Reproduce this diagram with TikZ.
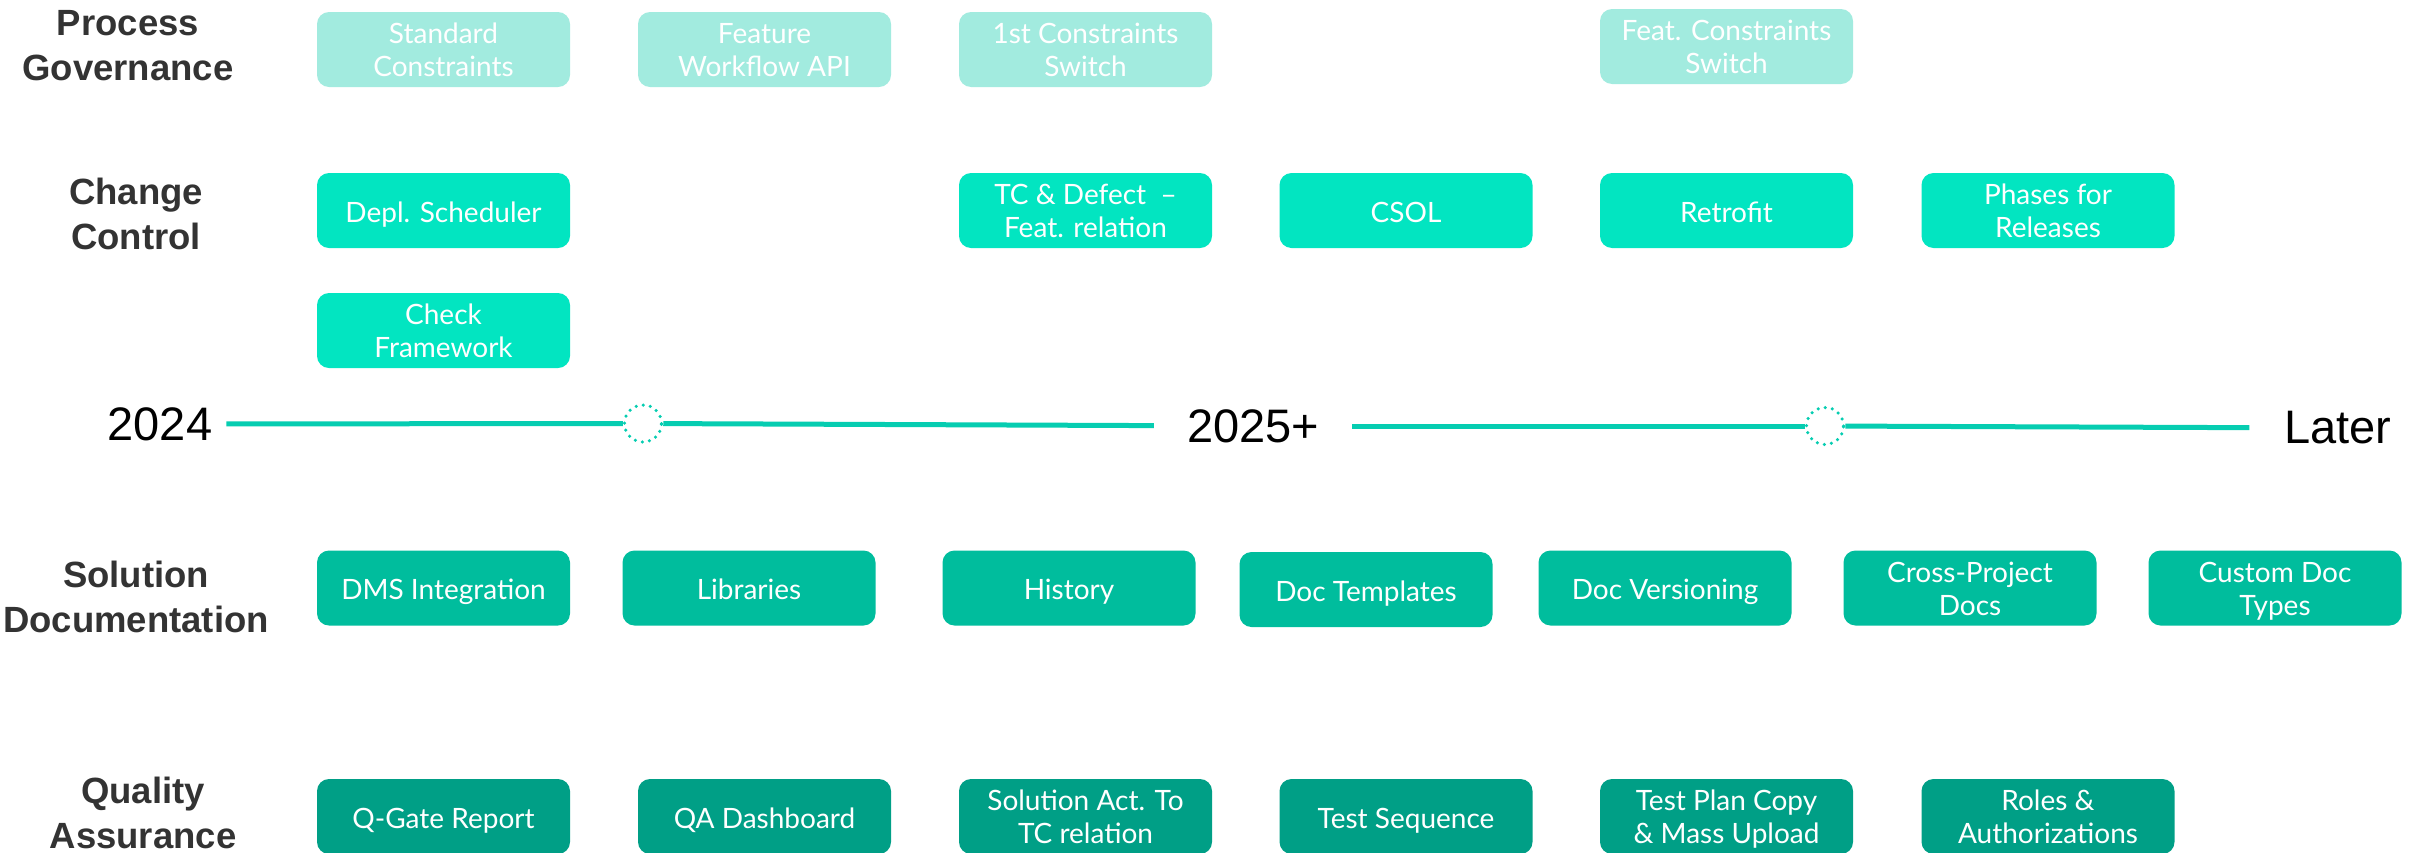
\documentclass[tikz,border=0pt]{standalone}
\usepackage{fontspec}
\setmainfont{Lato}
\newfontfamily\labfont{Liberation Sans}
\newcommand\twolines[1]{\parbox[b]{250pt}{\centering #1}}
\definecolor{pgc}{HTML}{A2EBDF}
\definecolor{ccc}{HTML}{02E5C1}
\definecolor{sdc}{HTML}{00BD9D}
\definecolor{qac}{HTML}{009F86}
\definecolor{linec}{HTML}{06CDB1}
\definecolor{labc}{HTML}{333333}
\begin{document}
\begin{tikzpicture}[x=1pt,y=-1pt,
 item/.style={rounded corners=12pt, minimum width=253pt, minimum height=75pt, text=white, align=center, font=\fontsize{28}{33}\selectfont, inner sep=0pt},
 one/.style={text height=23.5pt, text depth=0pt},
 two/.style={text height=54pt, text depth=0pt},
 pg/.style={item, fill=pgc},
 cc/.style={item, fill=ccc},
 sd/.style={item, fill=sdc},
 qa/.style={item, fill=qac},
 rowlabel/.style={font=\labfont\bfseries\fontsize{36.5}{45}\selectfont, text=labc, align=center, inner sep=0pt},
 year/.style={font=\labfont\fontsize{47}{50}\selectfont, text=black, inner ysep=0pt},
 mile/.style={circle, draw=linec, line width=3.5pt, line cap=round, dash pattern=on 0pt off 7.2pt, minimum size=37pt, inner sep=0pt},
 tl/.style={draw=linec, line width=5pt}]
\useasboundingbox (0,0) rectangle (2426,852);
\clip (0,0) rectangle (2426,852);

% row labels
\node[rowlabel] (lpg) at (128,45.5) {Process\\Governance};
\node[rowlabel] (lcc) at (136,214) {Change\\Control};
\node[rowlabel] (lsd) at (136,597) {Solution\\Documentation};
\node[rowlabel] (lqa) at (143,813) {Quality\\Assurance};

% Process Governance
\node[pg, two] (pg1) at (443.5,49.5) {\twolines{Standard\\Constraints}};
\node[pg, two] (pg2) at (764.5,49.5) {\twolines{Feature\\Workflow API}};
\node[pg, two] (pg3) at (1085.5,49.5) {\twolines{1st Constraints\\Switch}};
\node[pg, two] (pg4) at (1726.5,46.5) {\twolines{Feat. Constraints\\Switch}};

% Change Control
\node[cc, one] (cc1) at (443.5,210.5) {Depl. Scheduler};
\node[cc, two] (cc2) at (443.5,330.5) {\twolines{Check\\Framework}};
\node[cc, two] (cc3) at (1085.5,210.5) {\twolines{TC \& Defect~ --\\Feat. relation}};
\node[cc, one] (cc4) at (1406,210.5) {CSOL};
\node[cc, one] (cc5) at (1726.5,210.5) {Retrofit};
\node[cc, two] (cc6) at (2048,210.5) {\twolines{Phases for\\Releases}};

% timeline
\node[year, inner xsep=14pt] (t1) at (160,424) {2024};
\node[mile] (m1) at (643,423.5) {};
\node[year, inner xsep=33pt] (t2) at (1253,426) {2025+};
\node[mile] (m2) at (1825,426) {};
\node[year, inner xsep=35pt] (t3) at (2338,428) {Later};
\draw[tl] (t1) -- (m1);
\draw[tl] (m1) -- (t2);
\draw[tl] (t2) -- (m2);
\draw[tl] (m2) -- (t3);

% Solution Documentation
\node[sd, one] (sd1) at (443.5,588) {DMS Integration};
\node[sd, one] (sd2) at (749,588) {Libraries};
\node[sd, one] (sd3) at (1069,588) {History};
\node[sd, one] (sd4) at (1366,589.5) {Doc Templates};
\node[sd, one] (sd5) at (1665,588) {Doc Versioning};
\node[sd, two] (sd6) at (1970,588) {\twolines{Cross-Project\\Docs}};
\node[sd, two] (sd7) at (2275,588) {\twolines{Custom Doc\\Types}};

% Quality Assurance
\node[qa, one] (qa1) at (443.5,816.5) {Q-Gate Report};
\node[qa, one] (qa2) at (764.5,816.5) {QA Dashboard};
\node[qa, two] (qa3) at (1085.5,816.5) {\twolines{Solution Act. To\\TC relation}};
\node[qa, one] (qa4) at (1406,816.5) {Test Sequence};
\node[qa, two] (qa5) at (1726.5,816.5) {\twolines{Test Plan Copy\\\& Mass Upload}};
\node[qa, two] (qa6) at (2048,816.5) {\twolines{Roles \&\\Authorizations}};
\end{tikzpicture}
\end{document}
